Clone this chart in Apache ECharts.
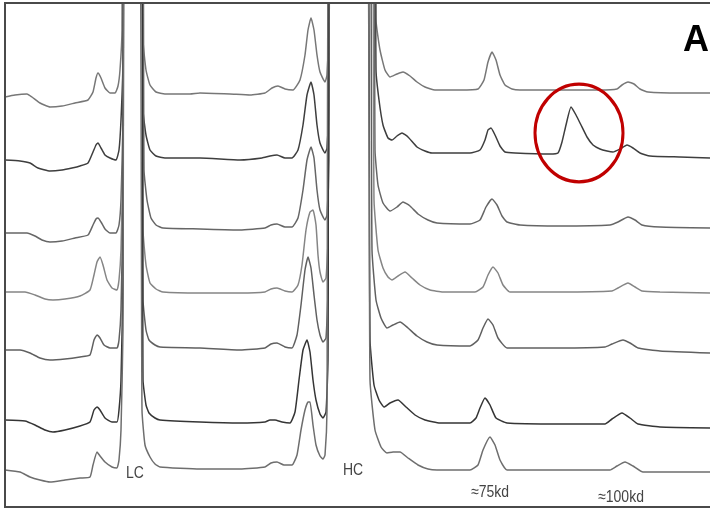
<!DOCTYPE html>
<html>
<head>
<meta charset="utf-8">
<script src="https://cdn.jsdelivr.net/npm/echarts@6/dist/echarts.min.js"></script>
<style>
html,body{margin:0;padding:0;background:#fff;}
#chart{width:710px;height:509px;}
</style>
</head>
<body>
<div id="chart"></div>
<script>
// Stacked electropherogram traces: [migration position, signal above trace offset]
const traceOffsets = [416, 351, 281, 216, 156, 81, 37];
const traceColors = ['#777777', '#3e3e3e', '#666666', '#858585', '#606060', '#353535', '#6e6e6e'];

const trace1 = [[5,-4],[15,-2],[27,-1],[32,-4],[40,-10],[50,-14],[62,-13],[75,-10],[88,-7],[93,1],[96,15],[98,20],[101,15],[105,5],[110,0],[115,0],[118,7],[120,23],[122,63],[124,600],[141,600],[143,53],[146,23],[150,8],[156,1],[165,-1],[190,-1],[200,0],[230,-1],[250,-2],[265,0],[272,5],[278,7],[285,4],[293,3],[300,13],[305,38],[308,63],[311,75],[314,63],[317,38],[320,21],[325,11],[327,18],[329,73],[331,600],[372,600],[376,73],[380,43],[385,23],[390,16],[397,19],[403,21],[410,17],[417,11],[425,6],[435,3],[460,3],[478,4],[484,13],[488,31],[492,41],[496,33],[500,18],[505,8],[512,4],[520,3],[560,3],[600,3],[617,4],[622,8],[628,11],[634,9],[640,4],[648,1],[680,0],[710,0]];
const trace2 = [[5,-2],[20,-3],[30,-5],[38,-10],[50,-13],[62,-12],[72,-10],[80,-8],[88,-5],[93,6],[96,13],[98,15],[101,10],[105,3],[110,0],[116,-2],[119,8],[121,38],[123,98],[125,600],[141,600],[143,48],[146,23],[150,8],[156,2],[165,0],[200,0],[240,-2],[262,0],[270,2],[277,3],[285,0],[292,0],[298,8],[303,33],[307,63],[311,76],[314,63],[317,33],[320,15],[325,5],[327,10],[329,58],[331,600],[372,600],[376,88],[379,58],[383,33],[388,20],[392,18],[397,22],[402,25],[408,21],[417,11],[425,7],[432,5],[470,5],[480,8],[485,18],[488,28],[491,30],[495,23],[500,12],[505,6],[515,5],[550,4],[558,5],[562,16],[566,33],[571,51],[576,43],[581,33],[587,21],[593,13],[600,9],[607,7],[613,6],[620,9],[627,13],[633,10],[640,5],[650,2],[680,1],[710,0]];
const trace3 = [[5,-5],[27,-5],[35,-8],[42,-12],[50,-14],[62,-13],[75,-10],[88,-7],[93,3],[96,9],[98,10],[101,6],[105,-1],[110,-5],[116,-5],[119,3],[121,28],[123,108],[125,600],[141,600],[144,58],[147,28],[151,10],[156,3],[163,0],[200,-1],[240,-2],[265,0],[271,3],[277,4],[285,1],[292,1],[298,10],[303,38],[307,68],[311,81],[314,70],[317,38],[320,18],[325,8],[327,13],[329,68],[331,600],[372,600],[375,78],[378,43],[383,25],[390,17],[397,21],[403,26],[410,22],[418,14],[428,8],[437,5],[470,4],[480,8],[486,21],[492,29],[497,23],[502,12],[507,6],[520,3],[560,2],[610,3],[618,6],[628,11],[635,8],[642,3],[660,1],[710,0]];
const trace4 = [[5,1],[25,1],[35,-2],[45,-6],[53,-7],[65,-6],[80,-3],[90,3],[94,18],[97,31],[100,36],[103,28],[107,13],[112,5],[117,3],[119,13],[121,43],[123,143],[125,600],[141,600],[143,63],[146,28],[150,10],[156,4],[163,1],[200,0],[240,0],[265,1],[271,4],[277,5],[285,2],[292,1],[298,8],[302,28],[306,63],[310,81],[313,83],[316,68],[318,38],[320,21],[323,11],[326,15],[328,53],[330,600],[370,600],[374,93],[378,43],[383,25],[388,16],[392,13],[398,17],[405,21],[412,15],[420,8],[430,3],[443,1],[475,1],[483,6],[488,18],[493,26],[498,20],[503,8],[510,1],[560,1],[612,2],[618,5],[628,10],[635,6],[642,2],[660,1],[710,0]];
const trace5 = [[5,3],[20,3],[30,0],[40,-5],[50,-7],[65,-6],[80,-4],[90,-2],[94,13],[97,18],[100,15],[104,8],[110,5],[117,5],[119,13],[121,43],[123,153],[125,600],[141,600],[143,53],[146,23],[149,13],[155,8],[160,6],[200,5],[240,3],[265,5],[271,9],[277,10],[285,6],[292,5],[297,18],[301,48],[305,83],[308,96],[311,85],[314,58],[317,33],[320,18],[323,11],[326,15],[328,63],[330,600],[368,600],[372,103],[376,53],[381,35],[387,25],[393,28],[400,31],[408,25],[417,17],[427,11],[437,8],[470,7],[478,13],[483,25],[488,34],[493,28],[498,15],[507,5],[560,5],[605,6],[612,9],[623,13],[630,10],[638,5],[660,2],[710,0]];
const trace6 = [[5,8],[25,7],[35,3],[45,-2],[53,-4],[65,-2],[80,2],[90,6],[94,18],[97,21],[100,18],[105,10],[112,6],[117,6],[119,18],[121,48],[123,148],[125,600],[141,600],[143,48],[146,23],[149,15],[155,10],[160,8],[200,6],[240,5],[265,6],[270,8],[275,8],[282,6],[290,5],[295,16],[299,48],[303,78],[307,88],[310,76],[313,48],[316,28],[320,14],[323,10],[326,16],[328,68],[330,600],[366,600],[370,88],[374,43],[379,28],[384,21],[390,25],[398,28],[406,21],[415,13],[425,8],[440,5],[470,5],[476,10],[480,20],[485,30],[490,23],[496,10],[507,5],[560,4],[605,4],[612,9],[622,15],[630,10],[638,4],[660,1],[710,0]];
const trace7 = [[5,2],[20,0],[30,-5],[40,-8],[50,-10],[65,-8],[80,-6],[90,-5],[93,7],[97,20],[100,16],[105,10],[112,5],[117,4],[119,12],[121,42],[123,142],[125,600],[139,600],[142,62],[145,27],[150,15],[155,8],[160,5],[200,3],[240,3],[265,5],[271,9],[277,10],[284,7],[292,7],[297,17],[301,42],[305,62],[308,70],[310,70],[313,47],[316,27],[320,16],[323,13],[325,17],[327,62],[329,600],[366,600],[370,92],[375,42],[381,25],[387,19],[393,20],[400,20],[408,14],[418,7],[428,3],[437,2],[470,2],[478,7],[483,22],[490,35],[495,27],[500,12],[507,2],[560,2],[610,2],[617,6],[625,10],[633,6],[643,0],[710,0]];

const traces = [trace1, trace2, trace3, trace4, trace5, trace6, trace7];
const peakLabels = ['LC', 'HC', '\u224875kd', '\u2248100kd'];
const panelLabel = 'A';

const chart = echarts.init(document.getElementById('chart'), null, {renderer: 'canvas'});

const series = traces.map((tr, i) => ({
  type: 'line',
  data: tr.map(p => [p[0], p[1] + traceOffsets[i]]),
  showSymbol: false,
  symbol: 'none',
  clip: true,
  smooth: 0.15,
  lineStyle: {color: traceColors[i], width: 1.5},
  silent: true,
  z: 2
}));

const labelFont = '"Liberation Sans Narrow", "Liberation Sans", Arial, sans-serif';
const smallLabel = (txt, x, y) => ({
  type: 'text', x: x, y: y, scaleY: 1.2,
  style: {text: txt, fill: '#444', font: '14px ' + labelFont, textAlign: 'center', textVerticalAlign: 'middle'},
  z: 10
});

chart.setOption({
  animation: false,
  backgroundColor: '#ffffff',
  grid: {left: 0, right: 0, top: 4, bottom: 0},
  xAxis: {type: 'value', min: 0, max: 710, show: false},
  yAxis: {type: 'value', min: 0, max: 505, show: false},
  series: series,
  graphic: [
    {type: 'rect', shape: {x: 5, y: 3, width: 708, height: 504}, style: {fill: 'none', stroke: '#4a4a4a', lineWidth: 2}, z: 20},
    {type: 'circle', x: 579, y: 133, scaleX: 1, scaleY: 1.11, shape: {cx: 0, cy: 0, r: 44}, style: {fill: 'none', stroke: '#c00000', lineWidth: 3}, z: 15},
    {type: 'text', x: 696, y: 41, style: {text: panelLabel, fill: '#000', font: 'bold 36px "Liberation Sans", Arial, sans-serif', textAlign: 'center', textVerticalAlign: 'middle'}, z: 10},
    smallLabel(peakLabels[0], 135, 473),
    smallLabel(peakLabels[1], 353, 470),
    smallLabel(peakLabels[2], 490, 492),
    smallLabel(peakLabels[3], 621, 497)
  ]
});
</script>
</body>
</html>
